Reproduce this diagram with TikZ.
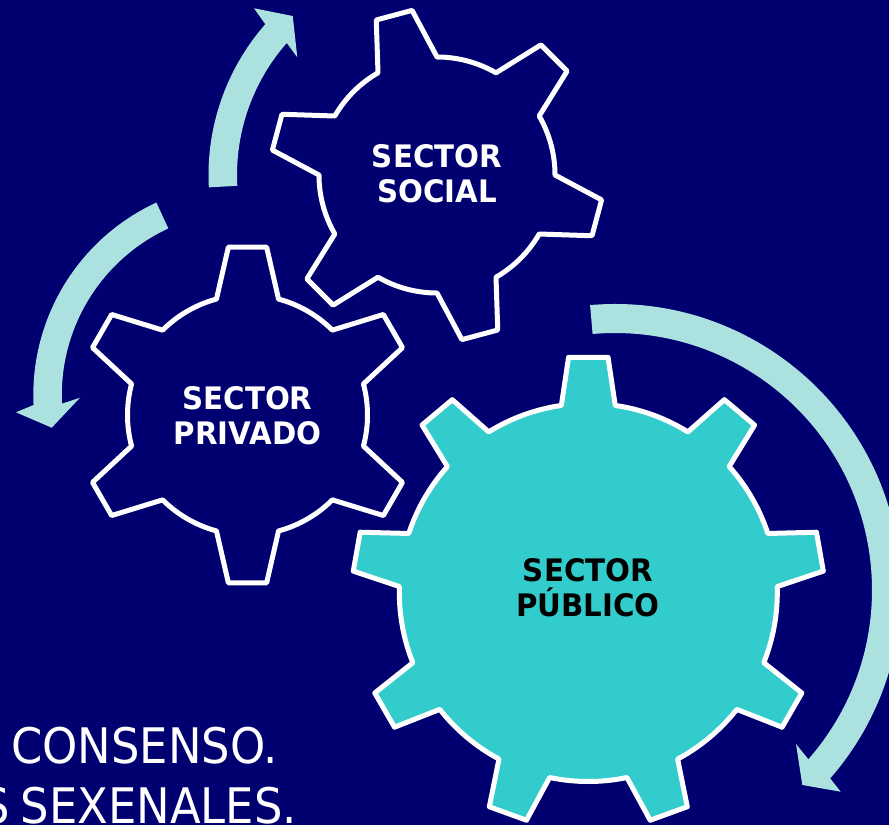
\documentclass[tikz,border=0pt]{standalone}
\usepackage{fontspec}
\setmainfont{DejaVu Sans}
\newfontfamily\lblfont[BoldFeatures={FakeStretch=0.945}]{DejaVu Sans}
\newfontfamily\bodyfont[FakeStretch=0.915]{DejaVu Sans}
\definecolor{navybg}{RGB}{0,0,112}
\definecolor{teal}{RGB}{51,204,204}
\definecolor{lightteal}{RGB}{171,226,224}
\tikzset{
  gearline/.style={draw=white,line width=5pt,line join=round},
  bandarrow/.style={fill=lightteal,draw=none},
  gearlabel/.style={font=\lblfont\bfseries\fontsize{31}{35}\selectfont,align=center,inner sep=0pt,anchor=base},
  bodytext/.style={font=\bodyfont\fontsize{49}{49}\selectfont,text=white,inner sep=0pt,anchor=base east}
}
% #1 options, #2 centre, #3 teeth list, #4 step, #5 first tooth, #6 body r, #7 tip r, #8 base half, #9 tip half
\newcommand{\gearshape}[9]{%
  \begin{scope}[shift={#2}]
    \path[#1] (#5-#8:#6)
      \foreach \k in {#3} {
        -- (#5+\k*#4-#9:#7) -- (#5+\k*#4+#9:#7) -- (#5+\k*#4+#8:#6)
        arc[start angle=#5+\k*#4+#8,end angle=#5+\k*#4+#4-#8,radius=#6]
      } -- cycle;
  \end{scope}%
}
\begin{document}
\begin{tikzpicture}[x=1pt,y=-1pt]
\useasboundingbox (0,0) rectangle (889,825);
\clip (0,0) rectangle (889,825);
\fill[navybg] (0,0) rectangle (889,825);

\gearshape{gearline}{(247.5,415)}{0,1,2,3,4,5}{60}{-90}{120}{169}{15}{6.5}
\gearshape{gearline}{(437,175)}{0,1,2,3,4,5}{60}{-105}{118}{166.5}{15}{6.4}
\gearshape{gearline,fill=teal}{(588.3,592.5)}{0,1,2,3,4,5,6,7,8}{40}{-90}{189}{236}{8.2}{4.8}

% circular arrows
\coordinate (a1w1) at (254,8.3);
\coordinate (a1t) at (292.7,16);
\coordinate (a1w2) at (297.3,57.3);
\begin{scope}[shift={(437,175)}]
  \fill[bandarrow] (176.9:228.5) arc[start angle=176.9,end angle=221.3,radius=228.5]
    -- (a1w1) -- (a1t) -- (a1w2) -- (221.3:200)
    arc[start angle=221.3,end angle=176.9,radius=200] -- cycle;
\end{scope}
\coordinate (a2w1) at (16,412.3);
\coordinate (a2t) at (51.7,427.7);
\coordinate (a2w2) at (80,397.7);
\begin{scope}[shift={(245.3,395)}]
  \fill[bandarrow] (245.2:212) arc[start angle=245.2,end angle=177.3,radius=212]
    -- (a2w1) -- (a2t) -- (a2w2) -- (177.3:183.5)
    arc[start angle=177.3,end angle=245.2,radius=183.5] -- cycle;
\end{scope}
\coordinate (a3w1) at (796,744);
\coordinate (a3t) at (802.3,785);
\coordinate (a3w2) at (840.7,791.7);
\begin{scope}[shift={(615,590)}]
  \fill[bandarrow] (-95:286) arc[start angle=-95,end angle=41.2,radius=286]
    -- (a3w2) -- (a3t) -- (a3w1) -- (41.2:257)
    arc[start angle=41.2,end angle=-95,radius=257] -- cycle;
\end{scope}

% labels
\node[gearlabel,text=white] (social) at (437,202.7) {SECTOR\\SOCIAL};
\node[gearlabel,text=white] (privado) at (247.5,444.3) {SECTOR\\PRIVADO};
\node[gearlabel,text=black] (publico) at (588,616.7) {SECTOR\\PÚBLICO};
\node[bodytext] (line1) at (278,763.3) {CONSENSO.};
\node[bodytext] (line2) at (297,823) {S\kern-3pt{} SEXENALES.};
\end{tikzpicture}
\end{document}
